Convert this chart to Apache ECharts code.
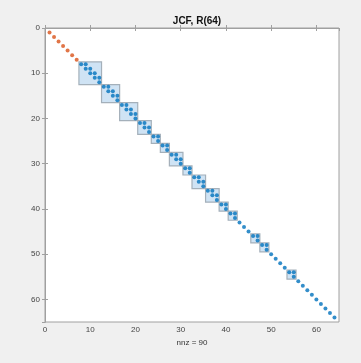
<!DOCTYPE html>
<html>
<head>
<meta charset="utf-8">
<script src="https://cdn.jsdelivr.net/npm/echarts@6/dist/echarts.min.js"></script>
<style>
html,body{margin:0;padding:0;background:#f0f0f0;}
#c{width:361px;height:363px;}
</style>
</head>
<body>
<div id="c"></div>
<script>
// Data
var titleText = 'JCF, R(64)';
var xLabel = 'nnz = 90';
var orangeDiag = [1, 2, 3, 4, 5, 6, 7];
var blueDiag = [8, 9, 10, 11, 12, 13, 14, 15, 16, 17, 18, 19, 20, 21, 22, 23, 24, 25, 26, 27, 28, 29, 30,
  31, 32, 33, 34, 35, 36, 37, 38, 39, 40, 41, 42, 43, 44, 45, 46, 47, 48, 49, 50, 51, 52, 53, 54, 55,
  56, 57, 58, 59, 60, 61, 62, 63, 64];
var superRows = [8, 9, 10, 11, 13, 14, 15, 17, 18, 19, 21, 22, 24, 26, 28, 29, 31, 33, 34, 36, 37, 39, 41, 46, 48, 54];
var blockStart = [8, 13, 17, 21, 24, 26, 28, 31, 33, 36, 39, 41, 46, 48, 54];
var blockEnd   = [12, 16, 20, 23, 25, 27, 30, 32, 35, 38, 40, 42, 47, 49, 55];
var axisTicks = [0, 10, 20, 30, 40, 50, 60];

var orangePts = orangeDiag.map(function (i) { return [i, i]; });
var bluePts = blueDiag.map(function (i) { return [i, i]; })
  .concat(superRows.map(function (r) { return [r + 1, r]; }));
var blocks = blockStart.map(function (s, k) { return [s, blockEnd[k]]; });

var chart = echarts.init(document.getElementById('c'));
var labelStyle = { color: '#444', fontSize: 8, fontFamily: 'Liberation Sans, Arial, sans-serif' };
var lineStyle = { color: '#a0a0a0', width: 1 };
chart.setOption({
  backgroundColor: '#f0f0f0',
  animation: false,
  title: {
    text: titleText,
    left: 192, top: 11, textAlign: 'center',
    textStyle: { fontSize: 10, fontWeight: 'bold', color: '#111', fontFamily: 'Liberation Sans, Arial, sans-serif' }
  },
  grid: { left: 45, top: 28, width: 294, height: 294, show: true, backgroundColor: '#ffffff', borderColor: '#a0a0a0', borderWidth: 1 },
  xAxis: [{
    type: 'value', min: 0, max: 65, interval: 10, position: 'bottom',
    name: xLabel, nameLocation: 'middle', nameGap: 13,
    nameTextStyle: { color: '#333', fontSize: 8, fontFamily: 'Liberation Sans, Arial, sans-serif' },
    axisLine: { show: true, lineStyle: lineStyle },
    axisTick: { show: true, inside: true, length: 3, lineStyle: lineStyle },
    axisLabel: Object.assign({ showMaxLabel: false, margin: 4 }, labelStyle),
    splitLine: { show: false }
  }, {
    type: 'value', min: 0, max: 65, interval: 10, position: 'top',
    axisLine: { show: true, lineStyle: lineStyle },
    axisTick: { show: true, inside: true, length: 3, lineStyle: lineStyle },
    axisLabel: { show: false }, splitLine: { show: false }
  }],
  yAxis: [{
    type: 'value', min: 0, max: 65, interval: 10, inverse: true, position: 'left',
    axisLine: { show: true, lineStyle: lineStyle },
    axisTick: { show: true, inside: true, length: 3, lineStyle: lineStyle },
    axisLabel: Object.assign({ showMaxLabel: false, margin: 5 }, labelStyle),
    splitLine: { show: false }
  }, {
    type: 'value', min: 0, max: 65, interval: 10, inverse: true, position: 'right',
    axisLine: { show: true, lineStyle: lineStyle },
    axisTick: { show: true, inside: true, length: 3, lineStyle: lineStyle },
    axisLabel: { show: false }, splitLine: { show: false }
  }],
  series: [{
    type: 'custom',
    xAxisIndex: 0, yAxisIndex: 0,
    data: blocks,
    renderItem: function (params, api) {
      var s = api.value(0), e = api.value(1);
      var p1 = api.coord([s - 0.5, s - 0.5]);
      var p2 = api.coord([e + 0.5, e + 0.5]);
      return {
        type: 'rect',
        shape: { x: p1[0], y: p1[1], width: p2[0] - p1[0], height: p2[1] - p1[1] },
        style: { fill: '#cfe3f4', stroke: '#a4b0ba', lineWidth: 1.2 }
      };
    },
    z: 1
  }, {
    type: 'scatter', xAxisIndex: 0, yAxisIndex: 0,
    data: orangePts, symbolSize: 4,
    itemStyle: { color: '#D95319' }, z: 3
  }, {
    type: 'scatter', xAxisIndex: 0, yAxisIndex: 0,
    data: bluePts, symbolSize: 4,
    itemStyle: { color: '#0072BD' }, z: 3
  }]
});
</script>
</body>
</html>
